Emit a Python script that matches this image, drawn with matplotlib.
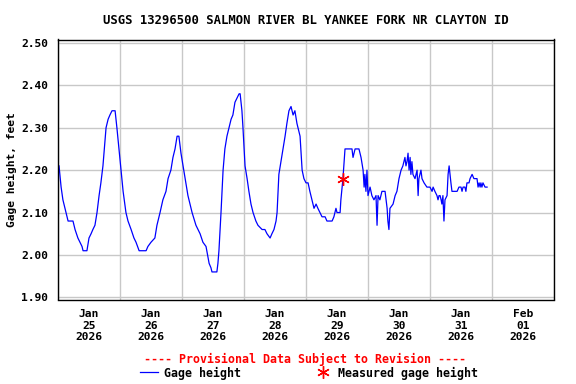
import datetime as dt
import matplotlib
matplotlib.use("Agg")
from matplotlib import pyplot as plt
from matplotlib import dates as mdates
from matplotlib.lines import Line2D

# Gage height, hours after 2026-01-25 00:00 and feet
heures = [0.4, 1.2, 1.9, 2.7, 3.5, 3.9, 5.8, 6.6, 7.7, 8.5, 9.3, 9.7, 11.2, 12.0, 12.8,
          13.5, 14.3, 15.1, 15.9, 16.6, 17.4, 18.2, 18.6, 19.4, 20.1, 20.9, 22.1, 22.8,
          23.6, 24.4, 25.2, 26.3, 27.1, 28.3, 29.4, 30.2, 31.4, 34.1, 34.8, 36.0, 37.5,
          38.3, 39.5, 40.6, 41.8, 42.6, 43.7, 44.5, 45.3, 46.1, 46.8, 47.6, 48.4, 49.2,
          50.3, 51.9, 53.4, 55.0, 56.1, 57.3, 58.5, 59.2, 59.6, 61.5, 61.9, 62.3, 63.1,
          63.9, 64.6, 65.4, 66.2, 67.0, 67.7, 68.5, 69.3, 70.1, 70.5, 71.2, 71.6, 72.4,
          73.2, 73.9, 74.7, 75.5, 76.6, 77.4, 79.0, 80.1, 80.9, 82.1, 82.8, 83.6, 84.4,
          84.8, 85.2, 85.5, 86.3, 87.1, 87.9, 88.6, 89.4, 90.2, 91.0, 91.7, 92.5, 93.3,
          93.7, 94.5, 95.2, 96.0, 96.8, 97.5, 98.3, 99.1, 99.9, 100.6, 102.2, 103.4,
          104.1, 106.1, 106.8, 107.6, 108.0, 109.2, 109.5, 110.3, 111.1, 113.8, 114.2,
          115.0, 116.5, 117.3, 118.1, 118.5, 118.8, 119.2, 119.6, 120.0, 120.8, 121.5,
          122.3, 123.1, 123.5, 123.9, 124.6, 125.4, 126.6, 127.4, 127.7, 128.1, 128.5,
          129.7, 130.5, 131.2, 132.0, 132.8, 133.5, 134.3, 134.7, 135.1, 135.5, 135.9,
          136.3, 136.6, 137.0, 137.4, 138.2, 139.0, 139.4, 139.7, 140.5, 140.9, 141.7,
          142.8, 144.0, 144.8, 145.2, 145.9, 146.7, 147.1, 147.5, 147.9, 148.3, 148.6,
          149.0, 149.4, 149.8, 150.6, 151.0, 151.4, 152.1, 152.5, 153.3, 154.5, 155.2,
          156.0, 156.4, 156.8, 157.5, 157.9, 158.3, 159.1, 159.5, 160.3, 161.0, 162.2,
          162.6, 163.0, 163.4, 163.7, 164.1, 164.5, 165.3, 166.1]
hauteur = [2.21, 2.16, 2.13, 2.11, 2.09, 2.08, 2.08, 2.06, 2.04, 2.03, 2.02, 2.01, 2.01, 2.04, 2.05,
           2.06, 2.07, 2.10, 2.14, 2.17, 2.21, 2.27, 2.30, 2.32, 2.33, 2.34, 2.34, 2.30,
           2.25, 2.20, 2.15, 2.10, 2.08, 2.06, 2.04, 2.03, 2.01, 2.01, 2.02, 2.03, 2.04,
           2.07, 2.10, 2.13, 2.15, 2.18, 2.20, 2.23, 2.25, 2.28, 2.28, 2.24, 2.21, 2.18,
           2.14, 2.10, 2.07, 2.05, 2.03, 2.02, 1.98, 1.97, 1.96, 1.96, 1.98, 2.01, 2.10,
           2.20, 2.25, 2.28, 2.30, 2.32, 2.33, 2.36, 2.37, 2.38, 2.38, 2.34, 2.30, 2.21,
           2.18, 2.15, 2.12, 2.10, 2.08, 2.07, 2.06, 2.06, 2.05, 2.04, 2.05, 2.06, 2.08,
           2.10, 2.15, 2.19, 2.22, 2.25, 2.28, 2.31, 2.34, 2.35, 2.33, 2.34, 2.31, 2.29,
           2.28, 2.20, 2.18, 2.17, 2.17, 2.15, 2.13, 2.11, 2.12, 2.11, 2.09, 2.09,
           2.08, 2.08, 2.09, 2.11, 2.10, 2.10, 2.13, 2.18, 2.25, 2.25, 2.23,
           2.25, 2.25, 2.23, 2.20, 2.16, 2.19, 2.15, 2.20, 2.14, 2.16, 2.14,
           2.13, 2.14, 2.07, 2.14, 2.13, 2.15, 2.15, 2.11, 2.08, 2.06, 2.11,
           2.12, 2.14, 2.15, 2.18, 2.20, 2.21, 2.23, 2.21, 2.22, 2.24, 2.20,
           2.23, 2.19, 2.22, 2.19, 2.18, 2.20, 2.14, 2.18, 2.20, 2.18, 2.17,
           2.16, 2.16, 2.15, 2.16, 2.15, 2.14, 2.13, 2.14, 2.14, 2.13, 2.12,
           2.14, 2.08, 2.13, 2.14, 2.19, 2.21, 2.17, 2.15, 2.15, 2.15, 2.16,
           2.16, 2.15, 2.16, 2.16, 2.15, 2.17, 2.17, 2.18, 2.19, 2.18, 2.18,
           2.16, 2.17, 2.16, 2.17, 2.16, 2.17, 2.16, 2.16]

# Measured gage height
mesure_heure = [110.2]
mesure_hauteur = [2.18]

titre = "USGS 13296500 SALMON RIVER BL YANKEE FORK NR CLAYTON ID"
debut = dt.datetime(2026, 1, 25)
fin = dt.datetime(2026, 2, 2)

temps = [debut + dt.timedelta(hours=h) for h in heures]
temps_mesure = [debut + dt.timedelta(hours=h) for h in mesure_heure]

police = {"family": "DejaVu Sans Mono", "weight": "bold", "size": 8.1}
police_bas = dict(police, size=8.4)
plt.rcParams["font.family"] = "DejaVu Sans Mono"
plt.rcParams["font.weight"] = "bold"
plt.rcParams["font.size"] = 8.1

fig = plt.figure(figsize=(5.76, 3.84), dpi=100)
ax = fig.add_axes([58/576, 1-299.5/384, 496/576, 260/384])

ax.plot(temps, hauteur, color="#0000ff", lw=0.9)
ax.plot(temps_mesure, mesure_hauteur, ls="none", marker=(6, 2, 0), color="red",
        markersize=9, mew=1.0)

ax.set_xlim(debut, fin)
ax.set_ylim(1.895, 2.508)
ax.set_yticks([1.9, 2.0, 2.1, 2.2, 2.3, 2.4, 2.5])
ax.yaxis.set_major_formatter(plt.FormatStrFormatter("%.2f"))

ax.xaxis.set_major_locator(mdates.DayLocator())
ax.xaxis.set_major_formatter(plt.NullFormatter())
ax.xaxis.set_minor_locator(mdates.HourLocator(byhour=12))
ax.xaxis.set_minor_formatter(mdates.DateFormatter("%b\n%d\n%Y"))
ax.tick_params(axis="both", which="both", length=0, labelsize=8.1)
ax.tick_params(axis="x", which="minor", pad=7)
ax.tick_params(axis="y", pad=7)
ax.grid(True, which="major", color="#c8c8c8", lw=1.0)
for s in ax.spines.values():
    s.set_linewidth(1.0)
    s.set_color("black")

ax.set_ylabel("Gage height, feet", fontdict=police, labelpad=3)

fig.text(305.5/576, 1-21/384, titre, ha="center", va="center",
         **dict(police, size=8.8))
fig.text(305/576, 1-359/384, "---- Provisional Data Subject to Revision ----",
         ha="center", va="center", color="red", **police_bas)

poignees = [Line2D([], [], color="#0000ff", lw=0.9),
            Line2D([], [], ls="none", marker=(6, 2, 0), color="red", markersize=9)]
fig.legend(poignees, ["Gage height", "Measured gage height"], loc="center",
           bbox_to_anchor=(309/576, 1-373/384), ncol=2, frameon=False,
           prop=police_bas, handlelength=1.5, handletextpad=0.5, columnspacing=6.3)

fig.savefig("out.png", dpi=100)
